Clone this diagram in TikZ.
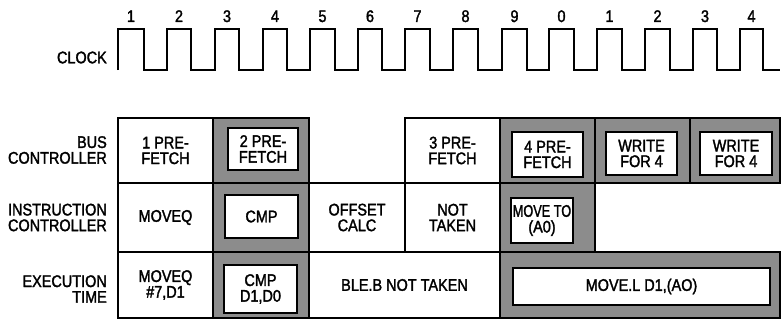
\documentclass[tikz,border=0pt]{standalone}
\usepackage{fontspec}
\setmainfont{Liberation Sans}[FakeStretch=0.86,FakeBold=1.8]
\begin{document}
\begin{tikzpicture}[x=1pt,y=-1pt,
  every node/.style={font=\fontsize{16.8}{15.7}\selectfont},
  lbl/.style={align=right,anchor=east,inner sep=0pt},
  num/.style={inner sep=0pt,anchor=base},
  cell/.style={draw,line width=2pt,inner sep=0pt,align=center},
  shaded/.style={cell,fill=black!45},
  inbox/.style={draw,line width=2pt,fill=white,inner sep=0pt,align=center},
  clk/.style={line width=2pt,line join=miter}]
\useasboundingbox (0,0) rectangle (781,321);
% clock
\draw[clk] (118,70)
  \foreach \r/\f in {118/144,167/191,215/239,263/287,310/335,358/382,405/430,453/478,502/527,549/574,597/622,645/670,693/717,740/763}
  { -- (\r,70) -- (\r,29) -- (\f,29) -- (\f,70) } -- (780,70);
\foreach \r/\f/\t [count=\i] in {118/144/1,167/191/2,215/239/3,263/287/4,310/335/5,358/382/6,405/430/7,453/478/8,502/527/9,549/574/0,597/622/1,645/670/2,693/717/3,740/763/4}
  \node[num] (n\i) at ({(\r+\f)/2},22) {\t};
\node[lbl] (clock) at (107,57.5) {CLOCK};
% row labels
\node[lbl] (lbus) at (107,150) {BUS\\CONTROLLER};
\node[lbl] (linst) at (107,217.5) {INSTRUCTION\\CONTROLLER};
\node[lbl] (lexec) at (107,289) {EXECUTION\\TIME};
% row 1
\node[cell,minimum width=95pt,minimum height=65pt] (b1) at (165.5,150.5) {1 PRE-\\FETCH};
\node[shaded,minimum width=96pt,minimum height=65pt] (b2) at (261,150.5) {};
\node[inbox,minimum width=70pt,minimum height=42pt] (b2i) at (263,149) {2 PRE-\\FETCH};
\node[cell,minimum width=95pt,minimum height=65pt] (b4) at (452.5,150.5) {3 PRE-\\FETCH};
\node[shaded,minimum width=95pt,minimum height=65pt] (b5) at (547.5,150.5) {};
\node[inbox,minimum width=71pt,minimum height=45pt] (b5i) at (547.5,154.5) {4 PRE-\\FETCH};
\node[shaded,minimum width=95pt,minimum height=65pt] (b6) at (642.5,150.5) {};
\node[inbox,minimum width=71pt,minimum height=43pt] (b6i) at (641.5,153.5) {WRITE\\FOR 4};
\node[shaded,minimum width=90pt,minimum height=65pt] (b7) at (735,150.5) {};
\node[inbox,minimum width=72pt,minimum height=43pt] (b7i) at (736,153.5) {WRITE\\FOR 4};
% row 2
\node[cell,minimum width=95pt,minimum height=69pt] (i1) at (165.5,217.5) {MOVEQ};
\node[shaded,minimum width=96pt,minimum height=69pt] (i2) at (261,217.5) {};
\node[inbox,minimum width=73pt,minimum height=43pt] (i2i) at (261.5,216.5) {CMP};
\node[cell,minimum width=96pt,minimum height=69pt] (i3) at (357,217.5) {OFFSET\\CALC};
\node[cell,minimum width=95pt,minimum height=69pt] (i4) at (452.5,217.5) {NOT\\TAKEN};
\node[shaded,minimum width=95pt,minimum height=69pt] (i5) at (547.5,217.5) {};
\node[inbox,minimum width=62pt,minimum height=45pt] (i5i) at (542,220.5) {\scalebox{0.88}[1]{MOVE TO}\\(A0)};
% row 3
\node[cell,minimum width=95pt,minimum height=66pt] (e1) at (165.5,285) {MOVEQ\\\#7,D1};
\node[shaded,minimum width=96pt,minimum height=66pt] (e2) at (261,285) {};
\node[inbox,minimum width=73pt,minimum height=48pt] (e2i) at (260.5,289) {CMP\\D1,D0};
\node[cell,minimum width=191pt,minimum height=66pt] (e3) at (404.5,285) {BLE.B NOT TAKEN};
\node[shaded,minimum width=280pt,minimum height=66pt] (e5) at (640,285) {};
\node[inbox,minimum width=257pt,minimum height=37pt] (e5i) at (641.5,286.5) {MOVE.L D1,(AO)};
\end{tikzpicture}
\end{document}
